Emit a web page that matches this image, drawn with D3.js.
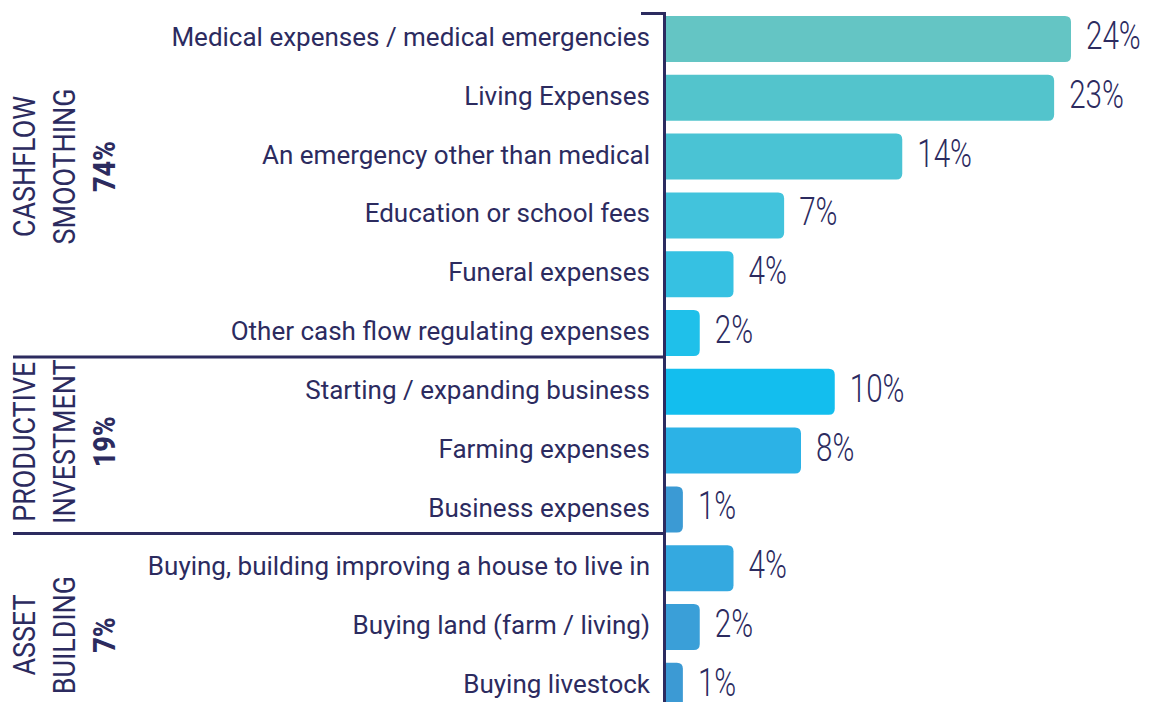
<!DOCTYPE html>
<html>
<head>
<meta charset="utf-8">
<script src="https://cdn.jsdelivr.net/npm/d3@7"></script>
<style>
  html, body { margin: 0; padding: 0; background: #ffffff; }
  svg { display: block; }
</style>
</head>
<body>
<svg id="chart" width="1151" height="702"></svg>
<script>
// Reasons for borrowing, grouped by purpose
const categories = [
  "Medical expenses / medical emergencies",
  "Living Expenses",
  "An emergency other than medical",
  "Education or school fees",
  "Funeral expenses",
  "Other cash flow regulating expenses",
  "Starting / expanding business",
  "Farming expenses",
  "Business expenses",
  "Buying, building improving  a house to live in",
  "Buying land (farm / living)",
  "Buying livestock"
];
const values = [24, 23, 14, 7, 4, 2, 10, 8, 1, 4, 2, 1];
const valueLabels = ["24%", "23%", "14%", "7%", "4%", "2%", "10%", "8%", "1%", "4%", "2%", "1%"];
const barColors = [
  "#64c5c4", "#53c4cc", "#4ac3d4", "#42c3dc", "#36c1e2", "#1fc0ea",
  "#13beee", "#2cb2e6", "#3b9ad4",
  "#34a9e0", "#3a9fd8", "#3c9ad4"
];

// Purpose groups: name lines, share, last category index
const groupLines = [["CASHFLOW", "SMOOTHING"], ["PRODUCTIVE", "INVESTMENT"], ["ASSET", "BUILDING"]];
const groupShares = ["74%", "19%", "7%"];
const groupEnd = [5, 8, 11];

const ink = "#2c2b5f";
const svg = d3.select("#chart");

const axisX = 664.5;
const x = d3.scaleLinear().domain([0, 24]).range([666, 1071]);
const y = d3.scaleBand().domain(categories).range([16, 708.8]).paddingInner(0.218).paddingOuter(0);
const bw = y.bandwidth();

// Bars with rounded right end
function barPath(x0, x1, y0, h, r) {
  r = Math.min(r, (x1 - x0) / 2, h / 2);
  return `M${x0},${y0}H${x1 - r}Q${x1},${y0} ${x1},${y0 + r}V${y0 + h - r}Q${x1},${y0 + h} ${x1 - r},${y0 + h}H${x0}Z`;
}

svg.append("g").selectAll("path")
  .data(categories)
  .join("path")
  .attr("d", (c, i) => barPath(x(0), x(values[i]), y(c), bw, 6))
  .attr("fill", (c, i) => barColors[i]);

// Category labels
svg.append("g").selectAll("text")
  .data(categories)
  .join("text")
  .attr("x", 650)
  .attr("y", c => y(c) + bw / 2 - 2)
  .attr("dy", "0.35em")
  .attr("text-anchor", "end")
  .attr("font-family", "Roboto, sans-serif")
  .attr("font-size", 26)
  .attr("fill", ink)
  .text(c => c);

// Value labels, light condensed
svg.append("g").selectAll("text")
  .data(categories)
  .join("text")
  .attr("transform", (c, i) => `translate(${x(values[i]) + 15},${y(c) + bw / 2 - 4}) scale(0.76,1)`)
  .attr("dy", "0.36em")
  .attr("font-family", "Roboto, sans-serif")
  .attr("font-weight", 300)
  .attr("font-size", 39)
  .attr("fill", ink)
  .text((c, i) => valueLabels[i]);

// Axis line with top hook and group separators
const lines = svg.append("g").attr("stroke", ink).attr("stroke-width", 3).attr("fill", "none");
lines.append("path").attr("d", `M641,13.5H${axisX}V702`);
groupEnd.slice(0, -1).forEach(e => {
  const yy = y(categories[e]) + bw + 1;
  lines.append("line").attr("x1", 13).attr("x2", axisX).attr("y1", yy).attr("y2", yy);
});

// Rotated group titles
const groupNudge = [-18, -3, 14];
groupLines.forEach((ln, g) => {
  const top = g === 0 ? 13 : y(categories[groupEnd[g - 1]]) + bw + 1;
  const bottom = y(categories[groupEnd[g]]) + bw;
  const cy = (top + bottom) / 2 + groupNudge[g];
  const items = [
    { t: ln[0], bx: 35, w: 400 },
    { t: ln[1], bx: 75, w: 400 },
    { t: groupShares[g], bx: 115, w: 800 }
  ];
  items.forEach(it => {
    svg.append("text")
      .attr("transform", `translate(${it.bx},${cy}) rotate(-90) scale(0.84,1)`)
      .attr("text-anchor", "middle")
      .attr("font-family", "Roboto, sans-serif")
      .attr("font-weight", it.w)
      .attr("font-size", 32)
      .attr("fill", ink)
      .text(it.t);
  });
});
</script>
</body>
</html>
